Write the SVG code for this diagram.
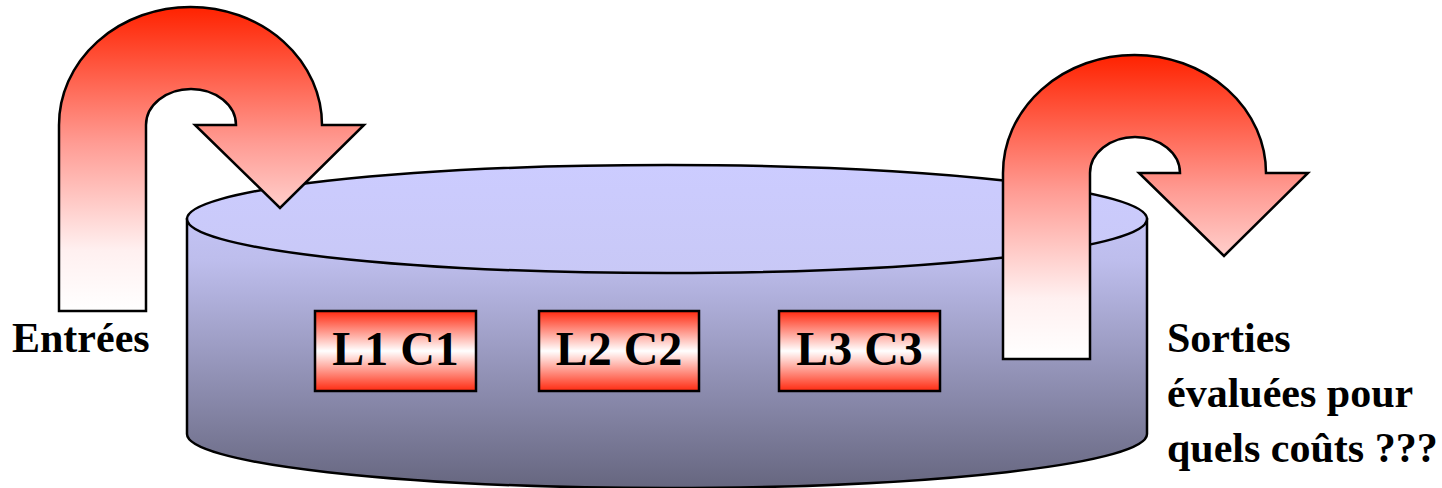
<svg xmlns="http://www.w3.org/2000/svg" width="1442" height="488" viewBox="0 0 1442 488">
<defs>
<linearGradient id="gArrow" x1="0" y1="0" x2="0" y2="1">
<stop offset="0" stop-color="#FF2200"/>
<stop offset="0.45" stop-color="#FF9C94"/>
<stop offset="0.8" stop-color="#FFF0F0"/>
<stop offset="1" stop-color="#FFFFFF"/>
</linearGradient>
<linearGradient id="gBody" gradientUnits="userSpaceOnUse" x1="0" y1="165" x2="0" y2="488">
<stop offset="0" stop-color="#CCCCFF"/>
<stop offset="0.3" stop-color="#BDBDEC"/>
<stop offset="1" stop-color="#66667F"/>
</linearGradient>
<linearGradient id="gTop" gradientUnits="userSpaceOnUse" x1="0" y1="165" x2="0" y2="273">
<stop offset="0" stop-color="#CCCCFF"/>
<stop offset="1" stop-color="#C8C8F6"/>
</linearGradient>
<linearGradient id="gBox" x1="0" y1="0" x2="0" y2="1">
<stop offset="0" stop-color="#FF2A10"/>
<stop offset="0.5" stop-color="#FFFFFF"/>
<stop offset="1" stop-color="#FF2A10"/>
</linearGradient>
<path id="uarrow" d="M59,311 L59,125 A131.5,118 0 0 1 322,125 L364,125 L280,208 L195,125 L236,125 A45,36 0 0 0 146,125 L146,311 Z"/>
</defs>
<style>
.stk{stroke:#000;stroke-width:2.5;stroke-linejoin:miter}
.lbl{font-family:"Liberation Serif","Times New Roman",serif;font-weight:bold;font-size:42px;fill:#000}
.box{fill:url(#gBox);stroke:#000;stroke-width:2.5}
.btxt{font-family:"Liberation Serif","Times New Roman",serif;font-weight:bold;font-size:48px;fill:#000;text-anchor:middle}
</style>
<rect width="1442" height="488" fill="#FFFFFF"/>
<g id="cylinder">
<path class="stk" fill="url(#gBody)" d="M187,219 L187,434 A480,54 0 0 0 1147,434 L1147,219 Z"/>
<ellipse class="stk" fill="url(#gTop)" cx="667" cy="219" rx="480" ry="54"/>
</g>
<g id="connectors">
<g id="arrow-entrees">
<use href="#uarrow" class="stk" fill="url(#gArrow)"/>
</g>
<g id="arrow-sorties">
<use href="#uarrow" class="stk" fill="url(#gArrow)" transform="translate(944,48)"/>
</g>
</g>
<g id="node-l1c1">
<rect class="box" x="315" y="311" width="161" height="80"/>
<text class="btxt" x="395.5" y="365">L1 C1</text>
</g>
<g id="node-l2c2">
<rect class="box" x="539" y="311" width="160" height="80"/>
<text class="btxt" x="619" y="365">L2 C2</text>
</g>
<g id="node-l3c3">
<rect class="box" x="779" y="311" width="161" height="80"/>
<text class="btxt" x="859.5" y="365">L3 C3</text>
</g>
<g id="label-entrees">
<text class="lbl" x="12" y="352">Entrées</text>
</g>
<g id="label-sorties">
<text class="lbl" x="1167" y="352">Sorties</text>
<text class="lbl" x="1167" y="407">évaluées pour</text>
<text class="lbl" x="1167" y="462">quels coûts ???</text>
</g>
</svg>
